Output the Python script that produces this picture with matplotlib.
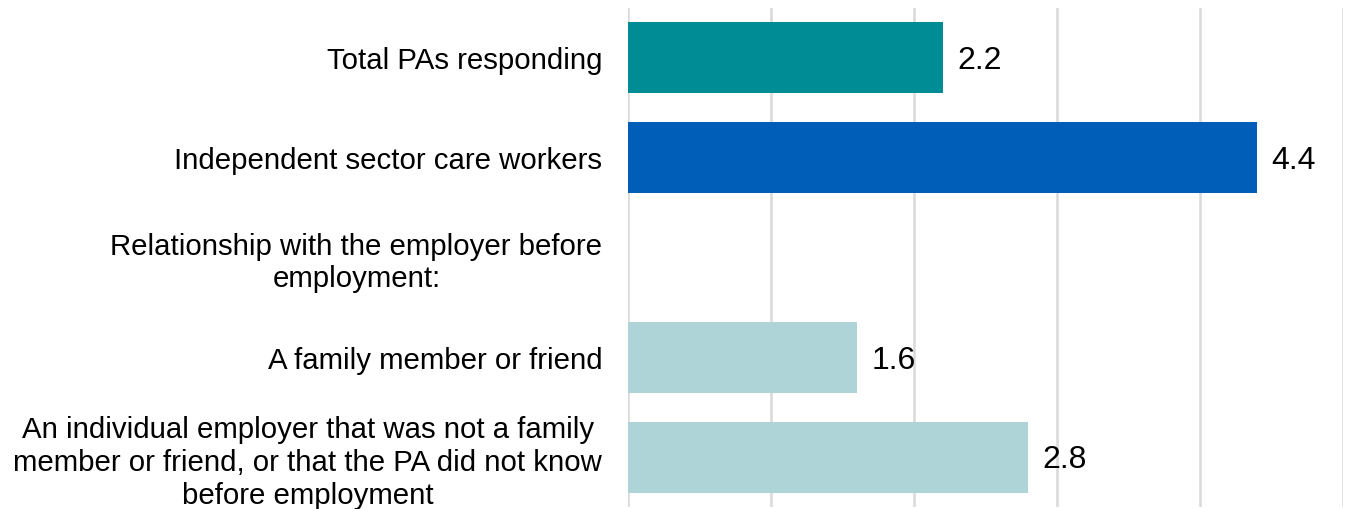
import numpy as np
import matplotlib.pyplot as plt

plt.rcParams['font.family'] = ['Liberation Sans', 'DejaVu Sans']

categories = [
    "Total PAs responding",
    "Independent sector care workers",
    "Relationship with the employer before\nemployment:",
    "A family member or friend",
    "An individual employer that was not a family\nmember or friend, or that the PA did not know\nbefore employment",
]
values = [2.2, 4.4, np.nan, 1.6, 2.8]
colors = ["#008C95", "#005EB8", "#FFFFFF", "#AFD4D7", "#AFD4D7"]

fig = plt.figure(figsize=(13.46, 5.09), dpi=100)
ax = fig.add_axes([0.4666, 0.003, 0.5312, 0.982])

y = np.arange(len(categories))
ax.barh(y, np.nan_to_num(values), height=0.71, color=colors, zorder=3)

# value labels just right of each bar
for yi, v in zip(y, values):
    if not np.isnan(v):
        ax.text(v + 0.1, yi + 0.03, f"{v:.1f}", va="center", ha="left", fontsize=23, zorder=4)

ax.set_yticks(y)
ax.set_yticklabels(categories, fontsize=21.2, ha="right", multialignment="center", linespacing=1.22)
ax.tick_params(axis="y", length=0, pad=18.5)
ax.set_ylim(len(categories) - 0.5, -0.5)

ax.set_xlim(0, 5)
ax.set_xticks(np.arange(0, 6))
ax.tick_params(axis="x", length=0, labelbottom=False)
ax.grid(axis="x", color="#D9D9D9", linewidth=1.8, zorder=0)
for s in ax.spines.values():
    s.set_visible(False)

fig.savefig("out.png", dpi=100)
